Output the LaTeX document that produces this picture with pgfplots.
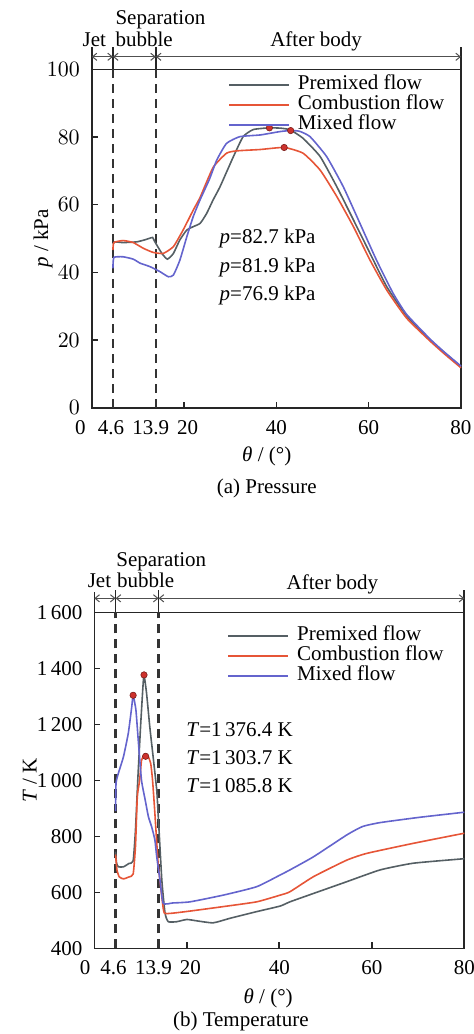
\documentclass[border=0pt]{standalone}
\usepackage{fontspec}
\setmainfont{Liberation Serif}
\usepackage{pgfplots}
\pgfplotsset{compat=1.18}
\usetikzlibrary{arrows.meta}

\definecolor{premix}{RGB}{85,95,100}
\definecolor{combust}{RGB}{230,85,55}
\definecolor{mixed}{RGB}{100,100,205}
\definecolor{dotred}{RGB}{205,50,45}
\definecolor{annot}{RGB}{80,80,80}

\pgfplotsset{
  panel/.style={
    scale only axis,
    xmin=0, xmax=80,
    axis line style={line width=0.8pt, black!85},
    tick style={line width=0.8pt, black!85},
    tick align=inside,
    major tick length=3pt,
    xtick pos=left, ytick pos=left,
    clip=false,
    xtick={0,4.6,13.9,20,40,60,80},
    xticklabel style={yshift=-2.5pt},
    yticklabel style={xshift=-2.3pt},
    legend style={draw=none, fill=none, inner sep=0pt, outer sep=0pt,
      anchor=north west, column sep=4pt, row sep=0pt,
      nodes={inner sep=0pt, text height=7.2pt, text depth=2.8pt, anchor=west}},
    legend cell align=left,
    legend image code/.code={\draw[line width=0.8pt, #1] (0pt,0pt) -- (30pt,0pt);},
  },
  curve/.style={line width=0.8pt, smooth, tension=0.3, forget plot},
  keyline/.style={line width=0.8pt},
  divider/.style={line width=1.1pt, black!80, dash pattern=on 4.5pt off 3pt},
  tickbar/.style={line width=0.8pt, black!85},
  span/.style={line width=0.5pt, annot, {Straight Barb[length=2.2pt,width=3.6pt]}-{Straight Barb[length=2.2pt,width=3.6pt]}},
  peak/.style={only marks, mark=*, mark size=1.6pt, mark options={fill=dotred, draw=dotred!60!black, line width=0.3pt}},
}

\begin{document}
\fontsize{10.5}{12.6}\selectfont
\begin{tikzpicture}
\useasboundingbox (0,0) rectangle (237pt,-517pt);

% ---------- (a) pressure ----------
\begin{axis}[panel,
  at={(45.85pt,-203.85pt)}, anchor=south west,
  width=184.65pt, height=169.2pt,
  ymin=0, ymax=100, ytick={0,20,40,60,80,100},
  xticklabels={{\makebox[0pt][r]{0\hspace{3pt}}},{\makebox[0pt]{4.6\hspace{2pt}}},{\makebox[0pt]{13.9\hspace{5pt}}},{\makebox[0pt]{\hspace{3.6pt}20}},40,60,80},
  xlabel={\textit{θ} / (°)},
  xlabel style={at={(axis description cs:0.474,-0.145)}, anchor=center},
  ylabel={\textit{p} / kPa},
  ylabel style={at={(axis description cs:-0.132,0.5)}, anchor=center},
  legend style={at={(axis cs:29.6,98.3)}},
]
\addlegendimage{keyline, premix}\addlegendentry{Premixed flow}
\addlegendimage{keyline, combust}\addlegendentry{Combustion flow}
\addlegendimage{keyline, mixed}\addlegendentry{Mixed flow}

\addplot[divider, forget plot] coordinates {(4.6,0)(4.6,100)};
\addplot[divider, forget plot] coordinates {(13.9,0)(13.9,100)};

\addplot[curve, premix] coordinates {
  (4.6,48.3)(5.0,49.0)(6.8,48.8)(9.7,49.0)(11.5,49.6)(12.6,50.1)(13.2,50.3)
  (13.7,49.0)(15.2,45.6)(16.4,43.9)(17.7,45.6)(19.1,49.6)(20.6,52.5)(22,53.5)
  (23.5,54.5)(24.9,57.4)(26.3,61.4)(27.8,65.3)(30.7,74.2)(32.8,80.1)(35,82.2)
  (38.5,82.7)(41,82.6)(43,82.1)(45.8,79.6)(49.5,74.2)(53.1,65.3)(56.7,55.5)
  (60.3,45.6)(63.9,35.8)(68.2,27.2)(73.3,20)(76.5,16.2)(80,12.1)};
\addplot[curve, combust] coordinates {
  (4.6,46.6)(4.8,48.8)(6.8,49.4)(9.0,48.8)(11.2,47.1)(13.3,45.9)(15.5,45.6)
  (17.7,47.6)(19.8,52.5)(22,58.4)(23.5,62.2)(26.3,71.0)(29.2,75.2)(31.4,75.9)
  (36.5,76.3)(41.7,76.9)(45.8,75.2)(49.5,70.2)(53.1,62.4)(56.7,53.5)(60.3,43.6)
  (63.9,34.8)(68.2,26.5)(73.3,19.7)(76.5,15.8)(80,11.8)};
\addplot[curve, mixed] coordinates {
  (4.6,41.2)(4.8,44.4)(6.8,44.6)(9.0,43.9)(10.5,42.7)(12.6,41.7)(14.8,40.2)
  (16.6,38.7)(17.7,39.2)(19.1,43.6)(20.6,50.5)(22,56.5)(23.5,61.5)(25.5,67.5)
  (27.1,73.2)(29.2,78.1)(32.1,80.1)(36.5,80.6)(40.8,81.6)(43.1,81.9)(45,81.7)
  (47.3,80.1)(50.9,74.2)(54.5,65.3)(58.1,54.5)(61.7,43.6)(65.3,33.8)(68.2,27.6)
  (73.3,20.3)(76.5,16.3)(80,12.3)};

\addplot[tickbar, forget plot] coordinates {(0,100)(0,106.7)};
\addplot[tickbar, forget plot] coordinates {(4.6,100)(4.6,106.7)};
\addplot[tickbar, forget plot] coordinates {(13.9,100)(13.9,106.7)};
\addplot[tickbar, forget plot] coordinates {(80,100)(80,106.7)};
\addplot[span, forget plot] coordinates {(0,103.7)(4.6,103.7)};
\addplot[span, forget plot] coordinates {(4.6,103.7)(13.9,103.7)};
\addplot[span, forget plot] coordinates {(13.9,103.7)(80,103.7)};
\addplot[peak, forget plot] coordinates {(38.5,82.7)(43.1,81.9)(41.7,76.9)};

\node[anchor=base, inner sep=0pt] at (axis cs:0.57,106.7) {Jet};
\node[anchor=base west, inner sep=0pt] at (axis cs:5.07,113.1) {Separation};
\node[anchor=base west, inner sep=0pt] at (axis cs:5.07,106.7) {bubble};
\node[anchor=base, inner sep=0pt] at (axis cs:48.6,106.7) {After body};
\node[anchor=base west, inner sep=0pt] at (axis cs:27.64,48.4) {\textit{p}=82.7 kPa};
\node[anchor=base west, inner sep=0pt] at (axis cs:27.64,40.1) {\textit{p}=81.9 kPa};
\node[anchor=base west, inner sep=0pt] at (axis cs:27.64,31.8) {\textit{p}=76.9 kPa};
\node[anchor=center] at (axis description cs:0.474,-0.238) {(a) Pressure};
\end{axis}

% ---------- (b) temperature ----------
\begin{axis}[panel,
  at={(47.15pt,-474.15pt)}, anchor=south west,
  width=185pt, height=168pt,
  ymin=400, ymax=1600, ytick={400,600,800,1000,1200,1400,1600},
  yticklabels={400,600,800,1\,000,1\,200,1\,400,1\,600},
  xticklabels={{\makebox[0pt][r]{0\hspace{2pt}}},{\makebox[0pt]{4.6\hspace{2pt}}},{\makebox[0pt]{13.9\hspace{5pt}}},{\makebox[0pt]{\hspace{3.6pt}20}},40,60,80},
  xlabel={\textit{θ} / (°)},
  xlabel style={at={(axis description cs:0.47,-0.148)}, anchor=center},
  ylabel={\textit{T} / K},
  ylabel style={at={(axis description cs:-0.174,0.5)}, anchor=center},
  legend style={at={(axis cs:28.8,1552)}},
]
\addlegendimage{keyline, premix}\addlegendentry{Premixed flow}
\addlegendimage{keyline, combust}\addlegendentry{Combustion flow}
\addlegendimage{keyline, mixed}\addlegendentry{Mixed flow}

\addplot[divider, forget plot] coordinates {(4.6,400)(4.6,1600)};
\addplot[divider, forget plot] coordinates {(13.9,400)(13.9,1600)};

\addplot[curve, premix] coordinates {
  (4.6,745)(4.8,705)(5.2,691)(6.3,691)(7.5,703)(8.4,712)(8.9,822)(9.4,1001)
  (10.0,1191)(10.5,1330)(10.75,1376.4)(11.3,1311)(12.0,1191)(12.8,1072)
  (13.5,965)(13.8,882)(14.6,644)(15.3,525)(16.0,495)(17.8,495)(20.0,503)
  (22.2,498)(25.7,491)(29.3,507)(35.1,531)(40.2,551)(42.3,566)(47.4,596)
  (54.6,638)(61.8,680)(69,704)(80,720)};
\addplot[curve, combust] coordinates {
  (4.6,735)(4.9,680)(5.4,655)(6.3,648)(7.5,655)(8.4,665)(8.9,763)(9.3,941)
  (9.8,1000)(10.2,1070)(10.6,1085)(11.1,1085.8)(11.7,1083)(12.2,1060)(12.6,1000)
  (13.1,882)(13.8,704)(14.6,584)(15.1,527)(16.6,525)(20.7,533)(27.9,549)
  (35.1,566)(40.2,590)(42.3,602)(47.4,656)(54.6,715)(58.9,739)(69,775)(80,811)};
\addplot[curve, mixed] coordinates {
  (4.6,890)(4.7,990)(5.2,1025)(6.3,1084)(7.35,1168)(8.1,1263)(8.4,1303.7)
  (9.0,1251)(9.5,1144)(10.2,1001)(11.0,930)(11.7,870)(12.4,834)(13.1,787)
  (13.5,727)(14.2,644)(14.9,561)(17,562)(20.7,566)(27.9,590)(35.1,620)
  (40.2,662)(42.3,680)(47.4,727)(54.6,805)(58,835)(61.8,849)(70.4,868)(80,886)};

\addplot[tickbar, forget plot] coordinates {(0,1600)(0,1673)};
\addplot[tickbar, forget plot] coordinates {(4.6,1600)(4.6,1680)};
\addplot[tickbar, forget plot] coordinates {(13.9,1600)(13.9,1680)};
\addplot[tickbar, forget plot] coordinates {(80,1600)(80,1680)};
\addplot[span, forget plot] coordinates {(0,1650)(4.6,1650)};
\addplot[span, forget plot] coordinates {(4.6,1650)(13.9,1650)};
\addplot[span, forget plot] coordinates {(13.9,1650)(80,1650)};
\addplot[peak, forget plot] coordinates {(10.75,1376.4)(8.4,1303.7)(11.1,1085.8)};

\node[anchor=base, inner sep=0pt] at (axis cs:1.12,1688) {Jet};
\node[anchor=base west, inner sep=0pt] at (axis cs:4.69,1763) {Separation};
\node[anchor=base west, inner sep=0pt] at (axis cs:4.84,1688) {bubble};
\node[anchor=base, inner sep=0pt] at (axis cs:51.5,1680) {After body};
\node[anchor=base west, inner sep=0pt] at (axis cs:19.83,1155.7) {\textit{T}=1\,376.4 K};
\node[anchor=base west, inner sep=0pt] at (axis cs:19.83,1057) {\textit{T}=1\,303.7 K};
\node[anchor=base west, inner sep=0pt] at (axis cs:19.83,958) {\textit{T}=1\,085.8 K};
\node[anchor=center] at (axis description cs:0.396,-0.2185) {(b) Temperature};
\end{axis}
\end{tikzpicture}
\end{document}
